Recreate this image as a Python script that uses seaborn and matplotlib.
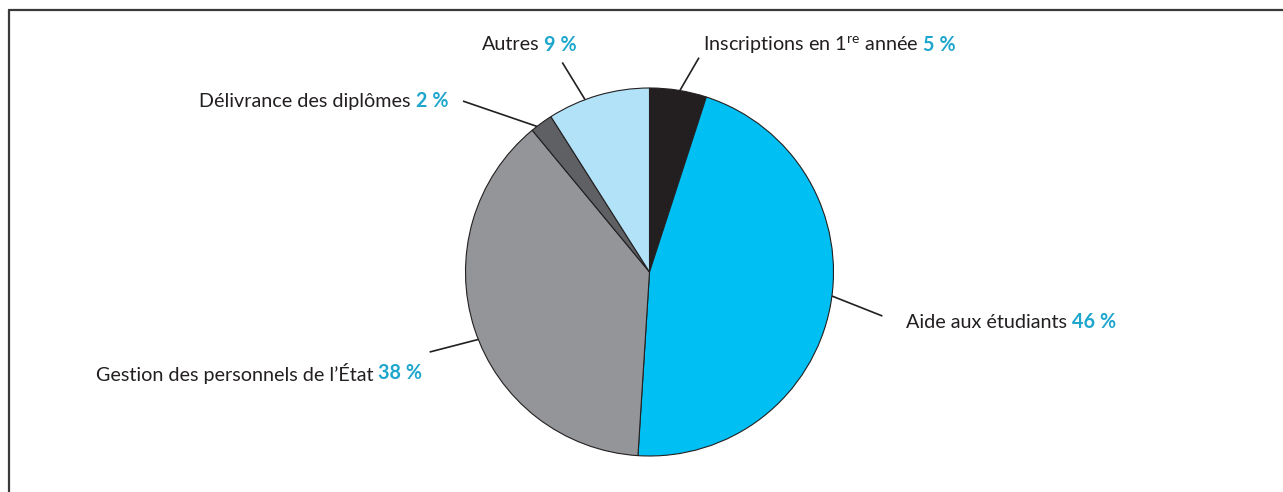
import matplotlib
matplotlib.use("Agg")
import matplotlib.pyplot as plt
import seaborn as sns
import numpy as np
from matplotlib.lines import Line2D

sns.set_theme(style="white")
plt.rcParams['font.family'] = ['Lato', 'DejaVu Sans']
plt.rcParams['mathtext.fontset'] = 'custom'
plt.rcParams['mathtext.rm'] = 'Lato'

# Data
categories = ["Inscriptions en 1$^{\\mathrm{re}}$ année", "Aide aux étudiants",
              "Gestion des personnels de l\u2019État", "Délivrance des diplômes", "Autres"]
values = [5, 46, 38, 2, 9]
pct_labels = ["5\u202f%", "46\u202f%", "38\u202f%", "2\u202f%", "9\u202f%"]
colors = ["#231f20", "#00bff3", "#939598", "#5e6063", "#b1e2f8"]

W, H = 1283, 492
fig = plt.figure(figsize=(W / 100, H / 100), dpi=100)
ax = fig.add_axes([0, 0, 1, 1])

cx, cy, R = 649.5, H - 272, 184
wedges, _ = ax.pie(values, colors=colors, startangle=90, counterclock=False,
                   center=(cx, cy), radius=R, frame=True,
                   wedgeprops=dict(edgecolor="#231f20", linewidth=0.8))
ax.set_xlim(0, W)
ax.set_ylim(0, H)
ax.axis("off")

# label layout: (leader angle deg clockwise from top, leader outer radius, outer angle,
#                text x, text y (image coords), alignment)
layout = [
    (9.5, 220, 13.0, 703, 45, "left"),
    (97.5, 237, 100.7, 906, 322, "left"),
    (248.5, 234, 250.0, 422, 373, "right"),
    (322.3, 253, 312.5, 448, 101, "right"),
    (339.5, 227, 337.4, 577, 45, "right"),
]

pct_color = "#1ea6cd"
fs = 14.2
gap = 5
fig.canvas.draw()
renderer = fig.canvas.get_renderer()
for cat, pct, (a0, r1, a1, tx, ty, ha) in zip(categories, pct_labels, layout):
    t0 = np.deg2rad(a0)
    t1 = np.deg2rad(a1)
    x0, y0 = cx + R * np.sin(t0), cy + R * np.cos(t0)
    x1, y1 = cx + r1 * np.sin(t1), cy + r1 * np.cos(t1)
    ax.plot([x0, x1], [y0, y1], color="#231f20", lw=1.2, solid_capstyle="butt")
    yy = H - ty
    if ha == "left":
        t = ax.text(tx, yy, cat, ha="left", va="center", fontsize=fs, color="#231f20")
        bb = t.get_window_extent(renderer)
        ax.text(bb.x1 + gap, yy, pct, ha="left", va="center", fontsize=fs,
                fontweight="bold", color=pct_color)
    else:
        p = ax.text(tx, yy, pct, ha="right", va="center", fontsize=fs,
                    fontweight="bold", color=pct_color)
        bb = p.get_window_extent(renderer)
        ax.text(bb.x0 - gap, yy, cat, ha="right", va="center", fontsize=fs, color="#231f20")

# frame
fig.add_artist(Line2D([9 / W, 9 / W], [0, 1 - 10 / H], transform=fig.transFigure,
                      color="#3a3a3a", lw=1.6))
fig.add_artist(Line2D([9 / W, 1], [1 - 10 / H, 1 - 10 / H], transform=fig.transFigure,
                      color="#3a3a3a", lw=1.6))

fig.savefig("out.png", dpi=100)
